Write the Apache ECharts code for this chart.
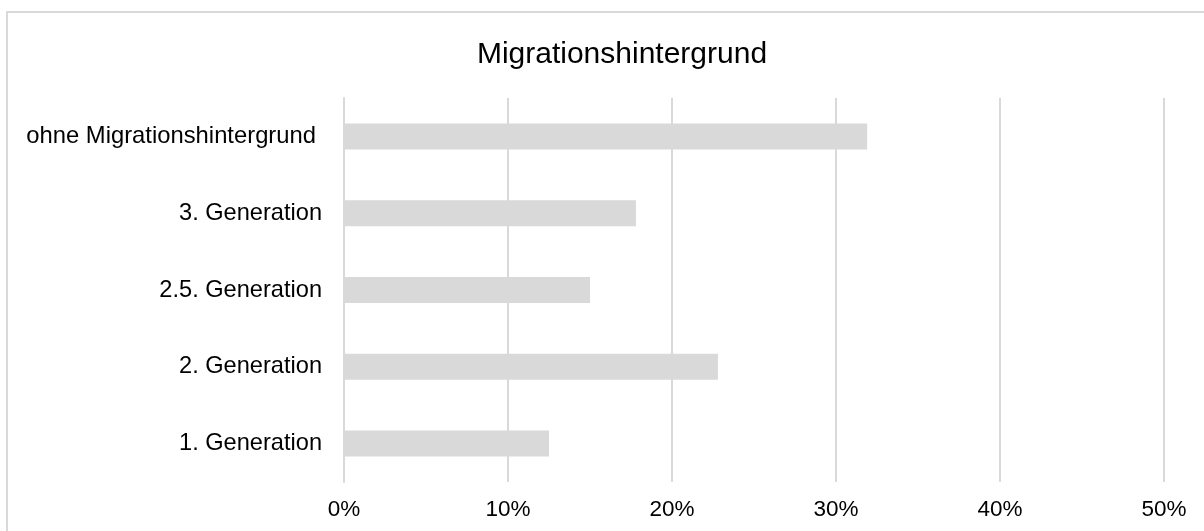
<!DOCTYPE html>
<html>
<head>
<meta charset="utf-8">
<script src="https://cdn.jsdelivr.net/npm/echarts@6/dist/echarts.min.js"></script>
<style>
html,body{margin:0;padding:0;background:#fff;}
#chart{width:1204px;height:531px;}
</style>
</head>
<body>
<div id="chart"></div>
<script>
const titleText = 'Migrationshintergrund';
const categories = ['1. Generation', '2. Generation', '2.5. Generation', '3. Generation', 'ohne Migrationshintergrund'];
const values = [12.5, 22.8, 15.0, 17.8, 31.9];
const xTicks = [0, 10, 20, 30, 40, 50];

const FONT = 'Liberation Sans, Arial, sans-serif';
const chart = echarts.init(document.getElementById('chart'));
chart.setOption({
  animation: false,
  backgroundColor: '#fff',
  graphic: [{
    type: 'rect',
    shape: { x: 7, y: 12, width: 1250, height: 600 },
    style: { fill: 'none', stroke: '#d9d9d9', lineWidth: 2 },
    silent: true
  }],
  title: {
    text: titleText,
    left: 617,
    textAlign: 'center',
    top: 35,
    textStyle: { fontFamily: FONT, fontSize: 30, fontWeight: 'normal', color: '#000' }
  },
  grid: { left: 344, right: 40, top: 98, bottom: 49, containLabel: false },
  xAxis: {
    type: 'value',
    min: xTicks[0], max: xTicks[xTicks.length - 1], interval: 10,
    axisLine: { show: false },
    axisTick: { show: false },
    splitLine: { show: true, lineStyle: { color: '#d9d9d9', width: 2 } },
    axisLabel: {
      formatter: v => v + '%',
      margin: 16,
      fontFamily: FONT, fontSize: 22.5, color: '#000'
    }
  },
  yAxis: {
    type: 'category',
    data: categories,
    axisLine: { show: true, lineStyle: { color: '#d9d9d9', width: 2 } },
    axisTick: { show: false },
    axisLabel: {
      margin: 22,
      fontFamily: FONT, fontSize: 23.6, color: '#000',
      formatter: v => v.length > 20 ? '{w|' + v + '}' : v,
      rich: { w: { fontFamily: FONT, fontSize: 23.8, color: '#000', padding: [0, 6, 0, 0] } }
    }
  },
  series: [{
    type: 'bar',
    data: values,
    barWidth: 26,
    itemStyle: { color: '#d9d9d9' },
    z: 3
  }]
});
</script>
</body>
</html>
